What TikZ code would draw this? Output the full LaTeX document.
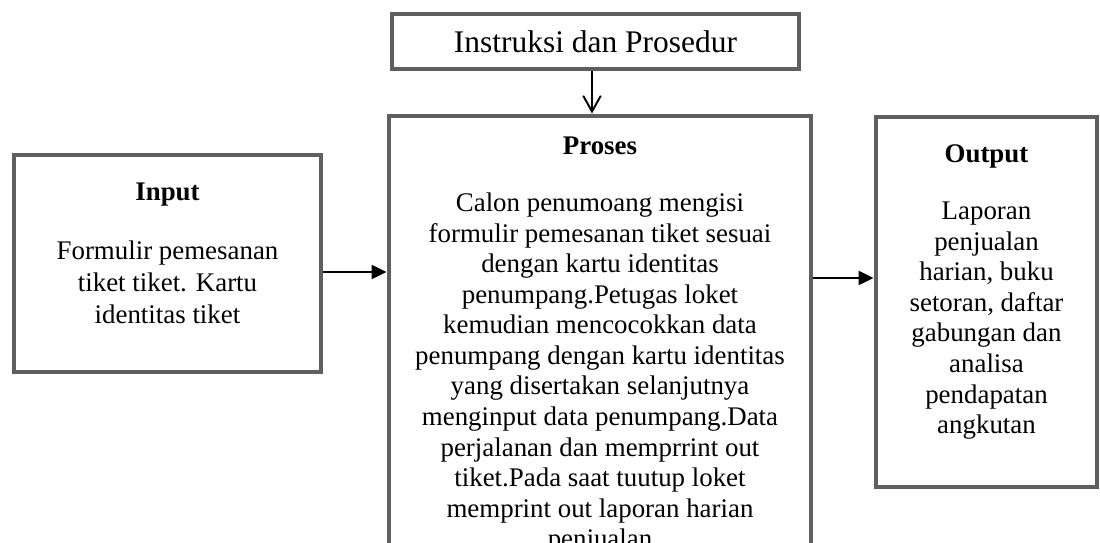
\documentclass[tikz,border=0pt]{standalone}
\usepackage{fontspec}
\setmainfont{Liberation Serif}
\usetikzlibrary{shapes,arrows,arrows.meta,positioning}
\definecolor{boxgray}{RGB}{95,95,95}

\begin{document}
\begin{tikzpicture}
\tikzset{font={\fontsize{15.3}{17.4}\selectfont}}
\tikzset{box/.style={draw=boxgray,line width=2.8pt,inner sep=0pt}}
\tikzset{boxtext/.style={align=center,inner sep=0pt}}
\tikzset{link/.style={line width=1.1pt,-{Triangle[length=8.5pt,width=8pt]}}}
\useasboundingbox (0,0) rectangle (22,10.86);
\clip (0,0) rectangle (22,10.86);

%Instruksi
\node[box,minimum width=8.14cm,minimum height=1.1cm,font={\fontsize{17.9}{20}\selectfont}] (instr) at (11.91,10.03) {Instruksi dan Prosedur};

%Input
\node[box,minimum width=6.14cm,minimum height=4.34cm] (input) at (3.35,5.59) {};
\node[boxtext,below=0.6cm of input.north] (inputtext) {\textbf{Input}\\[16pt]
Formulir pemesanan\\[1pt]tiket tiket. Kartu\\[1pt]identitas tiket};

%Proses
\node[box,minimum width=8.44cm,minimum height=9.68cm] (proses) at (12.0,3.70) {};
\node[boxtext,below=0.46cm of proses.north] (prosestext) {\textbf{Proses}\\[15pt]
Calon penumoang mengisi\\formulir pemesanan tiket sesuai\\dengan kartu identitas\\
penumpang.Petugas loket\\kemudian mencocokkan data\\penumpang dengan kartu identitas\\
yang disertakan selanjutnya\\menginput data penumpang.Data\\perjalanan dan memprrint out\\
tiket.Pada saat tuutup loket\\memprint out laporan harian\\penjualan};

%Output
\node[box,minimum width=4.42cm,minimum height=7.40cm] (output) at (19.73,4.82) {};
\node[boxtext,below=0.6cm of output.north] (outputtext) {\textbf{Output}\\[15pt]
Laporan\\penjualan\\harian, buku\\setoran, daftar\\gabungan dan\\analisa\\pendapatan\\angkutan};

%Arrows
\draw[line width=1.1pt,-{Straight Barb[length=9pt,width=10pt]}] ([xshift=-0.07cm]instr.south) -- ([xshift=-0.07cm]instr.south |- proses.north);
\draw[link] ([yshift=-0.17cm]input.east) -- ([yshift=-0.17cm]input.east -| proses.west);
\draw[link] ([yshift=1.6cm]proses.east) -- ([yshift=1.6cm]proses.east -| output.west);

\end{tikzpicture}
\end{document}
